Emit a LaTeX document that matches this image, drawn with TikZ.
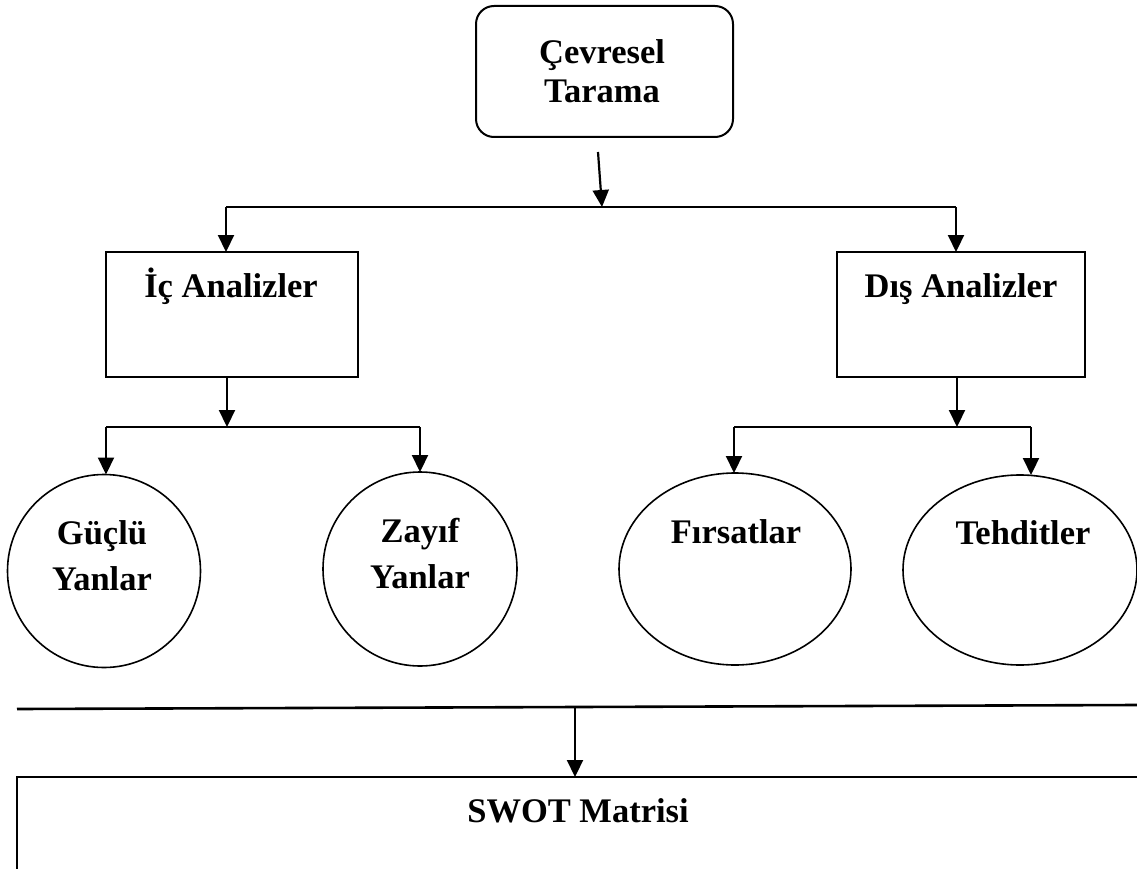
\documentclass[tikz,border=0pt]{standalone}
\usepackage{fontspec}
\setmainfont{Liberation Serif}
\usetikzlibrary{arrows.meta,shapes.geometric}
\begin{document}
\begin{tikzpicture}[x=1pt,y=-1pt,
  conn/.style={line width=2.2pt},
  arr/.style={line width=2.2pt,-{Triangle[length=17pt,width=16pt]}},
  boxshape/.style={draw,line width=2pt,rectangle,inner sep=0pt,outer sep=0pt},
  roundshape/.style={draw,line width=1.6pt,inner sep=0pt,outer sep=0pt},
  lbl/.style={font=\bfseries\fontsize{34.5}{46}\selectfont,inner sep=0pt,align=center}
]
\useasboundingbox (0,0) rectangle (1137,869);
\clip (0,0) rectangle (1137,869);

% shapes
\node[boxshape,rounded corners=18pt,minimum width=257pt,minimum height=131pt] (top) at (604.5,71.5) {};
\node[boxshape,minimum width=252pt,minimum height=125pt] (ic) at (232,314.5) {};
\node[boxshape,minimum width=248pt,minimum height=125pt] (dis) at (961,314.5) {};
\node[roundshape,circle,minimum size=193pt] (guclu) at (104,571) {};
\node[roundshape,circle,minimum size=194pt] (zayif) at (420,569) {};
\node[roundshape,ellipse,minimum width=232pt,minimum height=192pt] (firsat) at (735,569) {};
\node[roundshape,ellipse,minimum width=234pt,minimum height=190pt] (tehdit) at (1020,570) {};
\node[boxshape,minimum width=1150pt,minimum height=120pt,anchor=north west] (swot) at (17,777) {};

% texts
\node[lbl,font=\bfseries\fontsize{34.5}{39}\selectfont] (toptext) at (602,71) {Çevresel\\Tarama};
\node[lbl,anchor=base] (ictext) at (231,297) {İç Analizler};
\node[lbl,anchor=base] (distext) at (961,297) {Dış Analizler};
\node[lbl] (guclutext) at (102,555.5) {Güçlü\\Yanlar};
\node[lbl] (zayiftext) at (420,553.5) {Zayıf\\Yanlar};
\node[lbl,anchor=base] (firsattext) at (736,543) {Fırsatlar};
\node[lbl,anchor=base] (tehdittext) at (1023,544) {Tehditler};
\node[lbl,anchor=base] (swottext) at (578,822) {SWOT Matrisi};

% junction coordinates
\coordinate (s0) at (598,152);
\coordinate (j0) at (602,207);
\coordinate (b1l) at (226,207);
\coordinate (b1r) at (956,207);
\coordinate (j2) at (227,427);
\coordinate (b2l) at (106,427);
\coordinate (b2r) at (420,427);
\coordinate (j3) at (957,427);
\coordinate (b3l) at (734,427);
\coordinate (b3r) at (1031,427);
\coordinate (ll) at (17,709);
\coordinate (lr) at (1137,705);
\coordinate (s4) at (575,707);

% connectors
\draw[arr] (s0) -- (j0);
\draw[conn] (b1l) -- (b1r);
\draw[arr] (b1l) -- (b1l |- ic.north);
\draw[arr] (b1r) -- (b1r |- dis.north);

\draw[arr] (j2 |- ic.south) -- (j2);
\draw[conn] (b2l) -- (b2r);
\draw[arr] (b2l) -- (b2l |- guclu.north);
\draw[arr] (b2r) -- (zayif.north);

\draw[arr] (j3 |- dis.south) -- (j3);
\draw[conn] (b3l) -- (b3r);
\draw[arr] (b3l) -- (b3l |- firsat.north);
\draw[arr] (b3r) -- (b3r |- tehdit.north);

\draw[line width=2.6pt] (ll) -- (lr);
\draw[arr] (s4) -- (s4 |- swot.north);
\end{tikzpicture}
\end{document}
